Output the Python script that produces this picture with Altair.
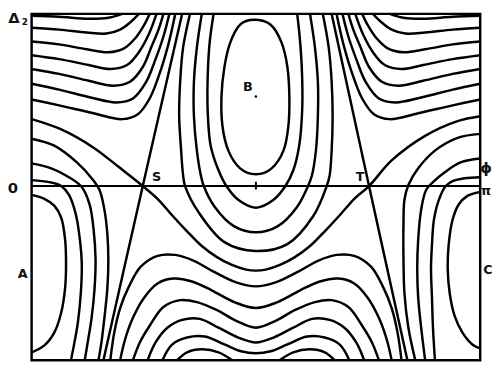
import altair as alt
import pandas as pd

# Digitised readings: phi in units where 456 = pi, delta in units where 175 = top of frame
PHI_SPAN = 456.0
DELTA_UNIT = 175.0
DELTA_MIN = -177.0

# upper-left family (left edge -> top)
UL1 = [(0,173),(28,172),(58,170),(78,171),(92,175)]
UL2 = [(0,161),(28,159),(56,156),(76,155),(90,159),(101,167),(109,175)]
UL3 = [(0,147),(28,144),(56,139),(78,136),(94,140),(106,151),(114,163),(120,175)]
UL4 = [(0,133),(28,129),(58,123),(80,119),(97,123),(109,136),(119,154),(127,175)]
UL5 = [(0,119),(28,114),(58,107),(83,102),(100,106),(113,121),(122,142),(129,159),(134,175)]
UL6 = [(0,104),(28,98),(60,90),(86,85),(103,89),(116,105),(126,129),(134,152),(140,175)]
UL7 = [(0,88),(28,82),(63,74),(92,68),(108,73),(120,89),(130,114),(139,144),(146,175)]

# upper-right family (right edge -> top)
UR1 = [(456,173),(428,172),(398,170),(378,171),(364,175)]
UR2 = [(456,161),(428,159),(400,156),(380,155),(366,159),(355,167),(347,175)]
UR3 = [(456,147),(428,144),(400,139),(378,136),(362,140),(350,151),(342,163),(336,175)]
UR4 = [(456,133),(428,129),(398,123),(376,119),(359,123),(347,136),(337,154),(329,175)]
UR5 = [(456,119),(428,114),(398,107),(373,102),(356,106),(343,121),(334,142),(327,159),(322,175)]
UR6 = [(456,104),(428,98),(396,90),(370,85),(353,89),(340,105),(330,129),(322,152),(316,175)]
UR7 = [(456,88),(428,82),(393,74),(364,68),(348,73),(336,89),(326,114),(317,144),(310,175)]

# separatrices
S_LINE = [(153,175),(113,0),(73,-177)]
T_LINE = [(305,175),(343,0),(382,-177)]
SEP = [(0,68),(29,58),(63,39),(89,19),(113,0),(128,-13),(143,-30),(158,-46),(173,-61),
       (188,-72),(203,-80),(218,-85),(228,-86),(238,-85),(253,-80),(268,-72),(283,-61),
       (298,-46),(313,-30),(328,-13),(343,0),(366,26),(400,51),(433,66),(456,71)]

# around A (phi = 0)
A0 = [(0,-9),(13,-13),(23,-20),(30,-32),(34,-54),(35,-79),(34,-104),(30,-129),(23,-149),(13,-162),(0,-169)]
A1 = [(0,6),(18,4),(30,0),(38,-9),(45,-29),(49,-54),(51,-79),(50,-109),(47,-139),(43,-162),(40,-177)]
A2 = [(0,23),(20,18),(38,9),(51,-1),(59,-19),(63,-44),(65,-74),(64,-104),(61,-134),(57,-159),(54,-177)]
A3 = [(0,48),(23,41),(46,24),(61,8),(69,-4),(74,-24),(77,-49),(78,-74),(77,-104),(74,-134),(71,-159),(68,-177)]

# around C (phi = pi)
C0 = [(456,-6),(443,-10),(434,-19),(428,-34),(424,-59),(423,-84),(425,-109),(430,-132),(438,-149),(448,-161),(456,-165)]
C1 = [(456,9),(440,8),(428,5),(421,0),(414,-14),(409,-34),(407,-59),(406,-84),(407,-114),(408,-144),(410,-177)]
C2 = [(456,28),(436,24),(420,14),(408,4),(401,-4),(396,-24),(393,-54),(392,-84),(393,-114),(396,-144),(400,-177)]
C3 = [(456,53),(433,49),(410,36),(393,18),(383,1),(379,-14),(378,-39),(378,-74),(379,-109),(383,-144),(390,-177)]

# around B
B_LOOP = [(226,169),(243,164),(254,146),(260,121),(262,91),(261,61),(256,36),(244,18),(228,12),
          (212,18),(200,36),(194,61),(193,91),(196,121),(202,146),(212,164)]
U1 = [(185,175),(181,146),(179,111),(179,76),(182,41),(190,16),(198,0),(210,-14),(228,-22),(246,-14),
      (258,0),(266,16),(272,41),(275,76),(275,111),(273,146),(270,175)]
U2 = [(173,175),(168,141),(165,106),(165,71),(168,36),(172,11),(175,0),(186,-21),(206,-41),(228,-47),
      (250,-41),(270,-21),(281,0),(285,11),(289,36),(291,71),(291,106),(288,141),(283,175)]
U3 = [(161,175),(154,141),(151,106),(150,71),(152,36),(154,11),(156,0),(170,-27),(196,-57),(228,-66),
      (260,-59),(286,-31),(300,0),(303,11),(305,36),(306,71),(305,106),(302,141),(296,175)]

# lower middle (wavy) family
W1 = [(80,-177),(84,-149),(90,-124),(99,-102),(111,-82),(128,-71),(146,-70),(165,-76),(185,-87),(208,-98),
      (228,-102),(248,-98),(271,-87),(291,-76),(310,-70),(328,-71),(345,-82),(357,-102),(366,-124),(372,-149),(376,-177)]
W2 = [(90,-177),(95,-156),(103,-134),(114,-114),(128,-99),(144,-94),(163,-97),(183,-106),(206,-118),(228,-124),
      (250,-118),(273,-106),(293,-97),(312,-94),(328,-99),(342,-114),(353,-134),(361,-156),(366,-177)]
W3 = [(103,-177),(110,-159),(120,-142),(134,-123),(151,-116),(168,-118),(188,-126),(208,-137),(228,-144),
      (248,-137),(268,-126),(288,-118),(305,-116),(322,-123),(336,-142),(346,-159),(353,-177)]
W4 = [(118,-177),(126,-159),(138,-144),(153,-136),(171,-135),(190,-144),(210,-154),(228,-159),(246,-154),
      (266,-144),(285,-135),(303,-136),(318,-144),(330,-159),(338,-177)]
W5 = [(133,-177),(143,-161),(158,-154),(176,-153),(196,-161),(213,-168),(228,-170),(243,-168),(260,-161),
      (280,-153),(298,-154),(313,-161),(323,-177)]
W6L = [(148,-177),(158,-169),(173,-166),(190,-169),(204,-177)]
W6R = [(252,-177),(266,-169),(283,-166),(298,-169),(308,-177)]

OPEN_CURVES = {
    "UL1": UL1, "UL2": UL2, "UL3": UL3, "UL4": UL4, "UL5": UL5, "UL6": UL6, "UL7": UL7,
    "UR1": UR1, "UR2": UR2, "UR3": UR3, "UR4": UR4, "UR5": UR5, "UR6": UR6, "UR7": UR7,
    "S_LINE": S_LINE, "T_LINE": T_LINE, "SEP": SEP,
    "A0": A0, "A1": A1, "A2": A2, "A3": A3, "C0": C0, "C1": C1, "C2": C2, "C3": C3,
    "U1": U1, "U2": U2, "U3": U3,
    "W1": W1, "W2": W2, "W3": W3, "W4": W4, "W5": W5, "W6L": W6L, "W6R": W6R,
}

LABEL_TEXT = ["Δ", "2", "0", "A", "B", "C", "S", "T", "ϕ", "π"]
LABEL_PHI = [-0.0395, -0.015, -0.042, -0.020, 0.482, 1.0175, 0.2785, 0.7325, 1.013, 1.013]
LABEL_DELTA = [0.975, 0.955, -0.011, -0.514, 0.577, -0.491, 0.051, 0.051, 0.103, -0.029]
LABEL_SIZE = [15, 9, 15, 13, 13, 13, 13, 13, 15, 13]


def to_rows(name, pts):
    return [{"curve": name, "i": i, "phi": gx / PHI_SPAN, "delta": gy / DELTA_UNIT}
            for i, (gx, gy) in enumerate(pts)]


rows = []
for name, pts in OPEN_CURVES.items():
    rows += to_rows(name, pts)
curves_df = pd.DataFrame(rows)
loop_df = pd.DataFrame(to_rows("B", B_LOOP))
labels_df = pd.DataFrame({"t": LABEL_TEXT, "phi": LABEL_PHI, "delta": LABEL_DELTA, "fs": LABEL_SIZE})

xs = alt.Scale(domain=[0, 1], nice=False, zero=False)
ys = alt.Scale(domain=[DELTA_MIN / DELTA_UNIT, 1], nice=False, zero=False)
X = alt.X("phi:Q", scale=xs, axis=None)
Y = alt.Y("delta:Q", scale=ys, axis=None)

lines = alt.Chart(curves_df).mark_line(
    interpolate="catmull-rom", color="black", strokeWidth=2.5, clip=True, strokeCap="round"
).encode(x=X, y=Y, detail="curve:N", order="i:Q")

loop = alt.Chart(loop_df).mark_line(
    interpolate="cardinal-closed", color="black", strokeWidth=2.5, clip=True
).encode(x=X, y=Y, order="i:Q")

zero_line = alt.Chart(pd.DataFrame({"d": [0.0]})).mark_rule(color="black", strokeWidth=2).encode(
    y=alt.Y("d:Q", scale=ys, axis=None)
)

marks_df = pd.DataFrame({"phi": [0.5], "delta": [0.52]})
b_dot = alt.Chart(marks_df).mark_circle(color="black", size=6, opacity=1).encode(x=X, y=Y)

tick_df = pd.DataFrame({"phi": [0.5], "d1": [-0.02], "d2": [0.025]})
mid_tick = alt.Chart(tick_df).mark_rule(color="black", strokeWidth=2).encode(
    x=X, y=alt.Y("d1:Q", scale=ys, axis=None), y2="d2:Q"
)

labels = alt.Chart(labels_df).mark_text(
    font="DejaVu Sans", fontWeight="bold", color="#111", align="center", baseline="middle"
).encode(x=X, y=Y, text="t:N", size=alt.Size("fs:Q", scale=None, legend=None))

chart = alt.layer(lines, loop, zero_line, mid_tick, b_dot, labels).properties(
    width=456, height=352,
    padding={"left": 24, "top": 3, "right": 12, "bottom": 5},
    autosize=alt.AutoSizeParams(type="none"),
).configure_view(stroke="black", strokeWidth=2.5)

chart.save("out.html", embed_options={"renderer": "svg", "actions": False})
